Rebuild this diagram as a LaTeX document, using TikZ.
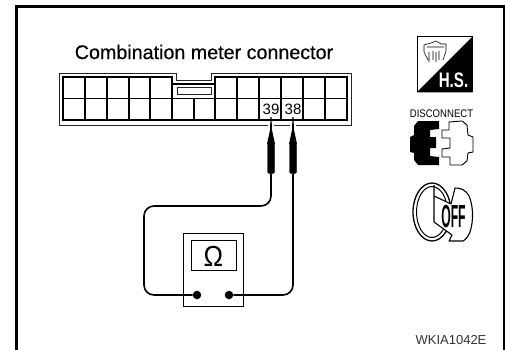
\documentclass[tikz,border=0pt]{standalone}
\usepackage{fontspec}
\setmainfont{Liberation Sans}
\newfontfamily\titlefont[FakeBold=0.4]{Liberation Sans}
\usetikzlibrary{positioning}
\tikzstyle{frameline}=[line width=2.6pt,line cap=butt]
\tikzstyle{grid}=[line width=1.1pt]
\tikzstyle{shell}=[line width=.9pt,black!85]
\tikzstyle{pinlabel}=[inner sep=0pt,font=\fontsize{15}{15}\selectfont]
\tikzstyle{probe}=[draw,fill=black,rounded corners=1.5pt,minimum width=7pt,minimum height=30pt,inner sep=0pt]
\tikzstyle{wire}=[line width=1.6pt,rounded corners=10pt]
\tikzstyle{terminal}=[fill=black,circle,minimum size=8.5pt,inner sep=0pt]
\tikzstyle{icon}=[line width=.9pt,fill=white,line join=round]
\begin{document}
\begin{tikzpicture}[x=1pt,y=-1pt]
\useasboundingbox (0,0) rectangle (505,350);
\draw[frameline] (16.5,350) -- (16.5,6.5) -- (504,6.5) -- (504,350);
\node [inner sep=0pt,font=\titlefont\fontsize{19.7}{19.7}\selectfont] (title) at (204,52) {Combination meter connector};

\draw[shell] (59,73) -- (176,73) -- (176,80) -- (211,80) -- (211,73) -- (351,73) -- (351,125) -- (59,125) -- cycle;
\draw[grid] (63,77) -- (172,77) -- (172,84) -- (215,84) -- (215,77) -- (347,77) -- (347,120) -- (63,120) -- cycle;
\draw[grid] (63,98.5) -- (347,98.5);
\foreach \x in {85,107,129,150,172,215,237,259,281,303,325}
    \draw[grid] (\x,77) -- (\x,120);
\draw[grid] (194,98.5) -- (194,120);
\draw[shell,line width=1pt] (177,88) rectangle (211,95);
\node [pinlabel] (pinA) at (271,109) {39};
\node [pinlabel] (pinB) at (293,109) {38};

\node [probe] (probeL) at (271,158.5) {};
\node [probe] (probeR) at (293,158.5) {};
\fill[white] (268,121) rectangle (274,130) (290,121) rectangle (296,130);
\fill (270.5,117) -- (271.5,117) -- (272,130) -- (275,144) -- (267,144) -- (270,130) -- cycle;
\fill (292.5,117) -- (293.5,117) -- (294,130) -- (297,144) -- (289,144) -- (292,130) -- cycle;

\node [draw,line width=1pt,minimum width=60pt,minimum height=73pt,inner sep=0pt] (meter) at (213,269.5) {};
\node [draw,line width=1pt,minimum width=45pt,minimum height=30pt,inner sep=0pt] (dial) at (213.5,255) {};
\node [inner sep=0pt,xscale=.9,font=\fontsize{29}{29}\selectfont] (ohm) at (213.5,256) {Ω};
\node [terminal] (termL) at (197,295) {};
\node [terminal] (termR) at (229,295) {};
\coordinate (bendL) at (144,206);
\draw[wire] (probeL.south) |- (bendL) |- (termL);
\draw[wire] (probeR.south) |- (termR);

\node [draw,line width=1pt,fill=white,minimum size=55pt,inner sep=0pt] (hsbox) at (444.5,64.5) {};
\fill (hsbox.north east) -- (hsbox.south east) -- (hsbox.south west) -- cycle;
\node [white,inner sep=0pt,xscale=.72,font=\bfseries\fontsize{21}{21}\selectfont] (hslabel) at (453.5,80.5) {H.S.};
\draw[line width=.6pt] (424,45) -- (431,43) -- (436,41) -- (441,44) -- (446,44) -- (446,51) -- (443,60)
    (424,45) -- (424,52) -- (428,60) (427,47) -- (444,47)
    (429,62) -- (429,52) (433,60) -- (433,51) (436,62) -- (436,52) (439,60) -- (439,51);

\node [inner sep=0pt,xscale=.87,font=\fontsize{11}{11}\selectfont] (disconnect) at (441.5,114) {DISCONNECT};
\fill (418,121) -- (439,121) -- (439,129) -- (430,130) -- (430,137) -- (436,137) -- (436,148) -- (430,148) -- (430,156) -- (439,157) -- (439,165) -- (418,165) -- (414,160) -- (414,153) -- (410,152) -- (410,137) -- (414,135) -- (414,126) -- cycle;
\draw[icon] (449,122) -- (449,130) -- (442,130) -- (442,138) -- (450,138) -- (450,148) -- (442,149) -- (442,157) -- (450,157) -- (450,165) -- (462,165) -- (467,161) -- (468,153) -- (473,152) -- (473,137) -- (468,135) -- (467,125) -- (462,121) -- cycle;

\draw[line width=1.3pt] (432,212) ellipse (19 and 29);
\draw[line width=1pt] (432,212) ellipse (15.5 and 25.5);
\draw[icon,line width=1.1pt] (434,185) -- (434,196) -- (451,204) -- (455,188) .. controls (460,188) and (465,189) .. (469,196) .. controls (473,205) and (474,220) .. (470,232) .. controls (468,237) and (465,240) .. (463,241) -- (449,241) -- (452,235) -- (434,222) -- (434,196);
\node [inner sep=0pt,xscale=.38,font=\bfseries\fontsize{32}{32}\selectfont] (offlabel) at (453.5,216) {OFF};

\node [inner sep=0pt,black!80,font=\fontsize{13}{13}\selectfont] (partno) at (451,340) {WKIA1042E};
\end{tikzpicture}
\end{document}
